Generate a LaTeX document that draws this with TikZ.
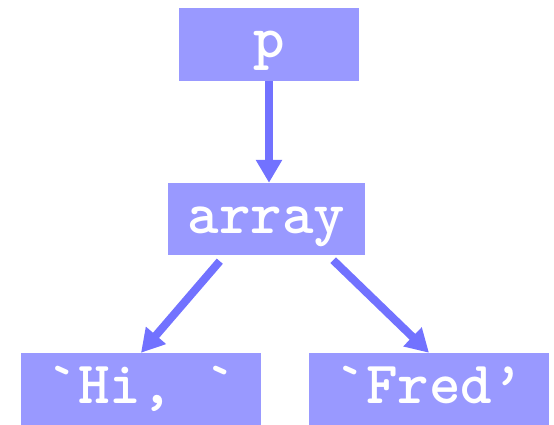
\documentclass[tikz,border=0pt]{standalone}
\usepackage{fontspec}
\usepackage{xcolor}
\usepackage{tikz}
\usetikzlibrary{arrows.meta}
\definecolor{boxfill}{HTML}{9999FF}
\definecolor{arrowblue}{HTML}{7272FF}

\begin{document}
\begin{tikzpicture}[x=1pt,y=1pt,
	cell/.style={fill=boxfill,inner sep=0pt,text=white,
		font=\ttfamily\bfseries\fontsize{60}{60}\selectfont,
		minimum height=72pt,text height=38pt,text depth=10pt},
	ptr/.style={draw=arrowblue,line width=8pt,
		-{Triangle[length=23pt,width=25pt]}}]
	\useasboundingbox (0,0) rectangle (554,424);

	\node[cell,minimum width=180pt,minimum height=73pt,text height=36pt] (p) at (269,379.5) {p};
	\node[cell,minimum width=197pt] (array) at (266.5,205) {array};
	\node[cell,minimum width=240pt] (hi) at (141,35) {`Hi, `};
	\node[cell,minimum width=240pt] (fred) at (429,35) {`Fred’};

	\draw[ptr] (p.south) -- (p.south |- array.north);
	\draw[ptr] ([xshift=52pt,yshift=-6pt]array.south west) -- (hi.north);
	\draw[ptr] ([xshift=-32pt,yshift=-5pt]array.south east) -- (fred.north);

\end{tikzpicture}
\end{document}
